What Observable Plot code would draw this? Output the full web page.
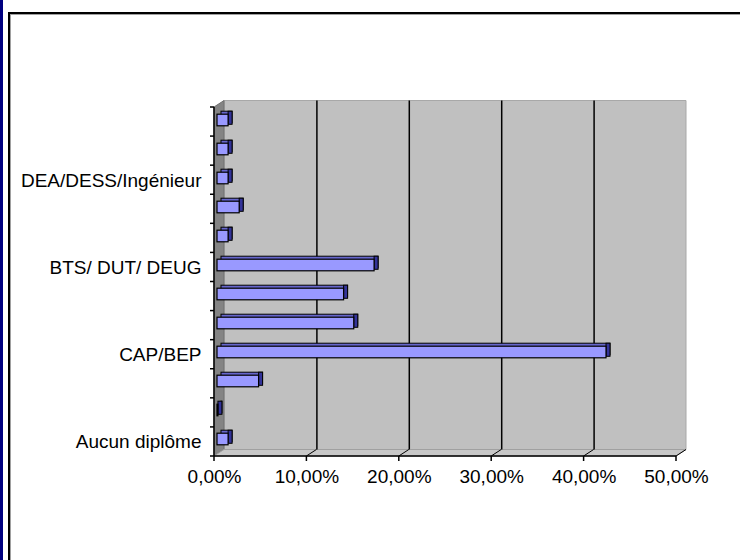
<!DOCTYPE html>
<html><head><meta charset="utf-8">
<script src="https://cdn.jsdelivr.net/npm/d3@7"></script>
<script src="https://cdn.jsdelivr.net/npm/@observablehq/plot@0.6"></script>
<style>
html,body{margin:0;padding:0;background:#fff;width:740px;height:560px;overflow:hidden}
#strip{position:absolute;left:0;top:0;width:3px;height:560px;background:#000080}
#box{position:absolute;left:8px;top:12px;width:800px;height:600px;border-left:2px solid #000;border-top:2px solid #000}
#box::before{content:"";position:absolute;left:0;top:0;right:0;bottom:0;border-left:1px solid #a0a0a0;border-top:1px solid #a0a0a0}
#chart{position:absolute;left:0;top:0}
</style></head>
<body><div id="strip"></div><div id="box"></div><div id="chart"></div>
<script>
// categories, bottom to top (only some are labelled in the source chart)
const positions = [1, 2, 3, 4, 5, 6, 7, 8, 9, 10, 11, 12];
const tickLabels = ["Aucun diplôme", "", "", "CAP/BEP", "", "", "BTS/ DUT/ DEUG", "", "", "DEA/DESS/Ingénieur", "", ""];
// share in percent
const shares = [1.2, 0.1, 4.5, 42.1, 14.8, 13.7, 17.0, 1.2, 2.4, 1.2, 1.2, 1.2];
const xTicks = [0, 0.1, 0.2, 0.3, 0.4, 0.5];

const data = positions.map((p, i) => ({pos: p, share: shares[i] / 100}));
const DX = 10, DY = -6.5;
const fmt = d => (d * 100).toFixed(2).replace(".", ",") + "%";

function scaleX(scales, dims) {
  const x0 = dims.marginLeft, x5 = dims.width - dims.marginRight;
  return typeof scales.x === "function" ? scales.x : t => x0 + (x5 - x0) * t / 0.5;
}

function walls(index, scales, values, dims) {
  const sx = scaleX(scales, dims);
  const x0 = sx(0), x5 = sx(0.5);
  const top = dims.marginTop, bottom = dims.height - dims.marginBottom;
  const g = d3.create("svg:g");
  const poly = pts => pts.map(p => p.join(",")).join(" ");
  // back wall
  g.append("polygon").attr("points", poly([[x0 + DX, top + DY], [x5 + DX, top + DY], [x5 + DX, bottom + DY], [x0 + DX, bottom + DY]]))
    .attr("fill", "#c0c0c0").attr("stroke", "#a8a8a8");
  // side wall
  g.append("polygon").attr("points", poly([[x0, top], [x0 + DX, top + DY], [x0 + DX, bottom + DY], [x0, bottom]]))
    .attr("fill", "#848484").attr("stroke", "#707070");
  // floor
  g.append("polygon").attr("points", poly([[x0, bottom], [x0 + DX, bottom + DY], [x5 + DX, bottom + DY], [x5, bottom]]))
    .attr("fill", "#c8c8c8").attr("stroke", "#a0a0a0");
  for (const t of xTicks.slice(1)) {
    g.append("line").attr("x1", sx(t)).attr("y1", bottom).attr("x2", sx(t) + DX).attr("y2", bottom + DY)
      .attr("stroke", "#000").attr("stroke-width", 1);
  }
  return g.node();
}

function axisLines(index, scales, values, dims) {
  const sx = scaleX(scales, dims);
  const x0 = sx(0), x5 = sx(0.5);
  const top = dims.marginTop, bottom = dims.height - dims.marginBottom;
  const g = d3.create("svg:g").attr("stroke", "#000").attr("stroke-width", 1.5);
  g.append("line").attr("x1", x0).attr("x2", x5).attr("y1", bottom).attr("y2", bottom);
  g.append("line").attr("x1", x0).attr("x2", x0).attr("y1", top).attr("y2", bottom);
  const n = positions.length;
  for (let k = 0; k <= n; k++) {
    const y = top + (bottom - top) * k / n;
    g.append("line").attr("x1", x0 - 4).attr("x2", x0).attr("y1", y).attr("y2", y);
  }
  for (const t of xTicks) {
    g.append("line").attr("x1", sx(t)).attr("x2", sx(t)).attr("y1", bottom).attr("y2", bottom + 5);
  }
  return g.node();
}

const inset = 8.7;
const chart = Plot.plot({
  width: 740,
  height: 560,
  marginLeft: 214,
  marginRight: 64,
  marginTop: 107,
  marginBottom: 104,
  style: {background: "transparent", fontFamily: "'Liberation Sans', Arial, sans-serif", fontSize: "19px", color: "#000", overflow: "visible"},
  x: {domain: [0, 0.5], ticks: xTicks, tickFormat: fmt, tickSize: 0, tickPadding: 13, label: null},
  y: {domain: positions.slice().reverse(), padding: 0, tickSize: 0, tickPadding: 13, tickFormat: p => tickLabels[p - 1], label: null},
  marks: [
    walls,
    Plot.ruleX(xTicks.slice(1, -1), {dx: DX, dy: DY, stroke: "#000", strokeWidth: 1.5}),
    // top face of each bar
    Plot.barX(data, {x1: 0, x2: "share", y: "pos", dx: 7, dy: -5.5, insetTop: inset, insetBottom: inset, fill: "#6666cc", stroke: "#000", strokeWidth: 1}),
    // right face
    Plot.barX(data, {x1: "share", x2: "share", y: "pos", dx: 3, dy: -4, insetRight: -4, insetTop: inset - 1.5, insetBottom: inset, fill: "#333399", stroke: "#000", strokeWidth: 1}),
    // front face
    Plot.barX(data, {x1: 0, x2: "share", y: "pos", dx: 3, dy: -2.5, insetTop: inset, insetBottom: inset, fill: "#9999ff", stroke: "#000", strokeWidth: 1.2}),
    axisLines
  ]
});
document.getElementById("chart").appendChild(chart);
</script>
</body></html>
